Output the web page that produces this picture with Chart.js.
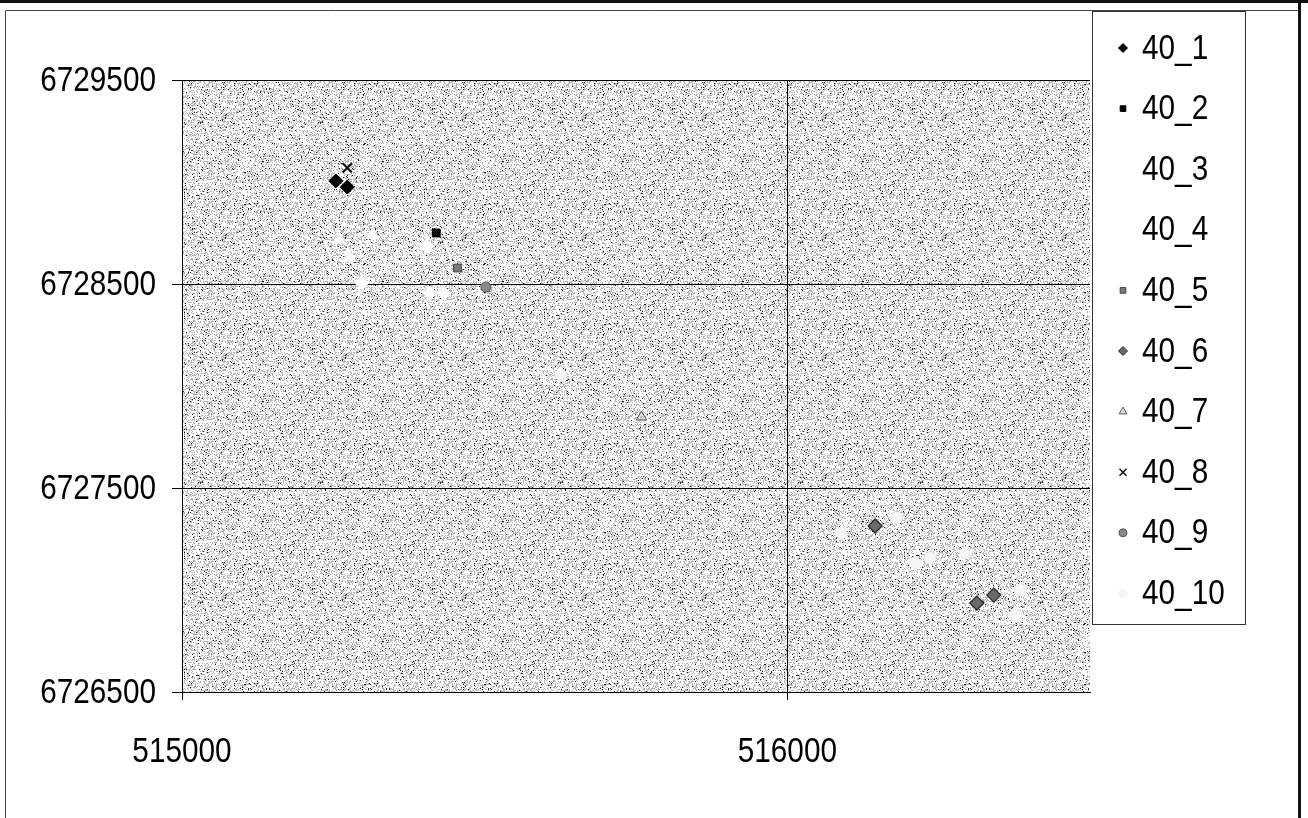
<!DOCTYPE html>
<html><head><meta charset="utf-8">
<script src="https://cdn.jsdelivr.net/npm/chart.js@4/dist/chart.umd.min.js"></script>
<style>html,body{margin:0;padding:0;background:#fff;}#wrap{width:1308px;height:818px;}</style>
</head><body><div id="wrap"><canvas id="c" width="1308" height="818"></canvas></div>
<script>
// ---- data ----
const seriesNames = ['40_1','40_2','40_3','40_4','40_5','40_6','40_7','40_8','40_9','40_10'];
const s40_1 = [{x:515254,y:6729005},{x:515273,y:6728975}];
const s40_2 = [{x:515420,y:6728750}];
const s40_3 = [{x:515260,y:6728716},{x:515315,y:6728740},{x:515277,y:6728627}];
const s40_4 = [{x:515297,y:6728505},{x:515404,y:6728686},{x:515409,y:6728456},{x:515432,y:6728456}];
const s40_5 = [{x:515455,y:6728578}];
const s40_6 = [{x:516145,y:6727314},{x:516313,y:6726936},{x:516341,y:6726975}];
const s40_7 = [{x:515759,y:6727848}];
const s40_8 = [{x:515273,y:6729069}];
const s40_9 = [{x:515502,y:6728485}];
const s40_10 = [{x:515626,y:6728054},{x:516089,y:6727279},{x:516180,y:6727353},{x:516211,y:6727132},
                {x:516236,y:6727157},{x:516295,y:6727181},{x:516385,y:6727000},{x:516377,y:6726877}];
const xTickValues = [515000, 516000];
const yTickValues = [6726500, 6727500, 6728500, 6729500];
const xRange = [515000, 516500];
const yRange = [6726500, 6729500];

// ---- styles ----
const FONT = "'Liberation Sans',Arial,sans-serif";
const FONT_SIZE = 35;
const NARROW = 0.85; // horizontal condensing of text to mimic a narrow face
const seriesData = [s40_1,s40_2,s40_3,s40_4,s40_5,s40_6,s40_7,s40_8,s40_9,s40_10];
const seriesStyle = [
  {ps:'rectRot', r:7, bg:'#000', bc:'#000', bw:1, lr:4.5},
  {ps:'rect', r:5.5, bg:'#000', bc:'#000', bw:1, lr:4},
  {ps:'triangle', r:7, bg:'#fff', bc:'#fff', bw:1, lr:0},
  {ps:'rectRot', r:7, bg:'#fff', bc:'#fff', bw:1, lr:0},
  {ps:'rect', r:5.5, bg:'#7a7a7a', bc:'#444', bw:1, lr:4},
  {ps:'rectRot', r:7, bg:'#6a6a6a', bc:'#2a2a2a', bw:1.3, lr:4.5},
  {ps:'triangle', r:6, bg:'rgba(200,200,200,0.5)', bc:'#555', bw:1, lr:4.5},
  {ps:'crossRot', r:6.5, bg:'#000', bc:'#111', bw:2, lr:5},
  {ps:'circle', r:5, bg:'#8a8a8a', bc:'#555', bw:1, lr:4},
  {ps:'circle', r:6, bg:'#f6f6f6', bc:'#f0f0f0', bw:1, lr:4}
];

function narrowText(ctx, text, x, y, align){
  ctx.save();
  ctx.translate(x, y);
  ctx.scale(NARROW, 1);
  ctx.textAlign = align;
  ctx.textBaseline = 'middle';
  ctx.fillText(text, 0, 0);
  ctx.restore();
}

// stipple texture for plot background
function makePattern(ctx){
  const pc = document.createElement('canvas'); pc.width = 120; pc.height = 120;
  const p = pc.getContext('2d');
  p.fillStyle = '#fff'; p.fillRect(0,0,120,120);
  let h = 24681;
  for (let yy=0; yy<120; yy++) for (let xx=0; xx<120; xx++){
    h = (h * 1103515245 + 12345) & 0x7fffffff;
    const v = (h >> 8) % 100;
    if (v < 4) { p.fillStyle = '#222'; p.fillRect(xx,yy,1,1); }
    else if (v < 34) { p.fillStyle = '#b4b4b4'; p.fillRect(xx,yy,1,1); }
  }
  return ctx.createPattern(pc, 'repeat');
}

const bgPlugin = {
  id:'bg',
  beforeDraw(chart){
    const {ctx, chartArea:a} = chart;
    ctx.save();
    ctx.fillStyle = '#fff'; ctx.fillRect(0,0,chart.width,chart.height);
    ctx.fillStyle = makePattern(ctx);
    ctx.fillRect(a.left, a.top, a.right-a.left, a.bottom-a.top);
    ctx.restore();
  }
};

const labelPlugin = {
  id:'labels',
  afterDraw(chart){
    const ctx = chart.ctx;
    ctx.save();
    ctx.fillStyle = '#000';
    ctx.font = FONT_SIZE + 'px ' + FONT;
    const xs = chart.scales.x, ys = chart.scales.y;
    xTickValues.forEach(v => narrowText(ctx, String(v), xs.getPixelForValue(v), 752, 'center'));
    yTickValues.forEach(v => narrowText(ctx, String(v), 156, ys.getPixelForValue(v) + 1, 'right'));
    ctx.restore();
  }
};

const framePlugin = {
  id:'frame',
  afterDraw(chart){
    const ctx = chart.ctx;
    ctx.save();
    // legend box
    ctx.fillStyle = '#fff';
    ctx.fillRect(1092.5, 11.5, 153, 613);
    ctx.strokeStyle = '#333'; ctx.lineWidth = 1;
    ctx.strokeRect(1092.5, 11.5, 153, 613);
    chart.data.datasets.forEach((ds, i) => {
      const y = 48 + i * 60.6;
      const st = seriesStyle[i];
      if (st.lr > 0) {
        ctx.fillStyle = ds.backgroundColor; ctx.strokeStyle = ds.borderColor;
        ctx.lineWidth = st.ps === 'crossRot' ? 1.5 : 1;
        Chart.helpers.drawPoint(ctx, {pointStyle: st.ps, radius: st.lr, borderWidth: ctx.lineWidth, rotation: 0}, 1123, y);
      }
      ctx.fillStyle = '#000';
      ctx.font = FONT_SIZE + 'px ' + FONT;
      narrowText(ctx, ds.label, 1142, y + 1, 'left');
    });
    // outer frame
    ctx.fillStyle = '#111';
    ctx.fillRect(0, 0, chart.width, 3);
    ctx.fillRect(1298, 0, 3, chart.height);
    ctx.strokeStyle = '#444'; ctx.lineWidth = 1;
    ctx.beginPath();
    ctx.moveTo(5.5, chart.height); ctx.lineTo(5.5, 10.5); ctx.lineTo(1298, 10.5);
    ctx.stroke();
    ctx.restore();
  }
};

const datasets = seriesNames.map((name, i) => ({
  label: name,
  data: seriesData[i],
  pointStyle: seriesStyle[i].ps,
  pointRadius: seriesStyle[i].r,
  pointHoverRadius: seriesStyle[i].r,
  backgroundColor: seriesStyle[i].bg,
  borderColor: seriesStyle[i].bc,
  pointBorderWidth: seriesStyle[i].bw,
  showLine: false
}));

new Chart(document.getElementById('c'), {
  type: 'scatter',
  data: { datasets },
  options: {
    responsive: false,
    animation: false,
    devicePixelRatio: 1,
    layout: { padding: { left: 0, top: 80, right: 218, bottom: 0 } },
    plugins: { legend: { display: false }, tooltip: { enabled: false } },
    scales: {
      x: {
        type: 'linear', min: xRange[0], max: xRange[1],
        afterFit(s){ s.height = 126; },
        afterBuildTicks(s){ s.ticks = xTickValues.map(v => ({value: v})); },
        grid: { color: '#000', lineWidth: 1, tickLength: 8, tickColor: '#000' },
        border: { display: true, color: '#000', width: 1 },
        ticks: { display: false }
      },
      y: {
        type: 'linear', min: yRange[0], max: yRange[1],
        afterFit(s){ s.width = 182; },
        afterBuildTicks(s){ s.ticks = yTickValues.map(v => ({value: v})); },
        grid: { color: '#000', lineWidth: 1, tickLength: 10, tickColor: '#000' },
        border: { display: true, color: '#000', width: 1 },
        ticks: { display: false }
      }
    }
  },
  plugins: [bgPlugin, labelPlugin, framePlugin]
});
</script></body></html>
